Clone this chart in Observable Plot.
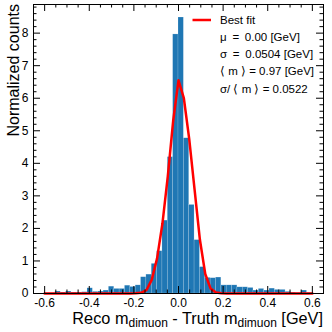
<!DOCTYPE html>
<html><head><meta charset="utf-8">
<script src="https://cdn.jsdelivr.net/npm/d3@7"></script>
<script src="https://cdn.jsdelivr.net/npm/@observablehq/plot@0.6"></script>
<style>html,body{margin:0;padding:0;background:#fff}#chart{width:332px;height:332px}</style>
</head><body><div id="chart"></div>
<script>
// Bin edges (50 bins from -0.6 to 0.6)
const binEdges = [-0.600,-0.576,-0.552,-0.528,-0.504,-0.480,-0.456,-0.432,-0.408,-0.384,
  -0.360,-0.336,-0.312,-0.288,-0.264,-0.240,-0.216,-0.192,-0.168,-0.144,
  -0.120,-0.096,-0.072,-0.048,-0.024,0.000,0.024,0.048,0.072,0.096,
  0.120,0.144,0.168,0.192,0.216,0.240,0.264,0.288,0.312,0.336,
  0.360,0.384,0.408,0.432,0.456,0.480,0.504,0.528,0.552,0.576,0.600];
// Normalized counts per bin
const counts = [0.01,0.01,0.06,0.03,0.06,0.03,0.03,0.04,0.16,0.05,
  0.06,0.09,0.21,0.14,0.14,0.24,0.20,0.25,0.50,0.58,
  0.91,1.30,2.24,4.19,7.96,8.48,4.77,2.72,1.64,0.81,
  0.48,0.47,0.49,0.25,0.25,0.25,0.19,0.19,0.17,0.09,
  0.14,0.09,0.15,0.11,0.11,0.05,0.03,0.02,0.09,0.02];
// Best-fit curve, read at the bin edges
const fitX = binEdges;
const fitY = [0,0,0,0,0,0,0,0,0,0,0,0,0,0,0,0,0,
  0.005,0.02,0.10,0.42,1.08,2.15,3.6,5.3,6.55,6.0,4.75,3.2,1.65,0.6,0.15,0.03,0.005,
  0,0,0,0,0,0,0,0,0,0,0,0,0,0,0,0,0];
// Ticks
const xTickValues = [-0.6,-0.4,-0.2,0.0,0.2,0.4,0.6];
const xTickLabels = ["-0.6","-0.4","-0.2","0.0","0.2","0.4","0.6"];
const xMinorTicks = [-0.65,-0.55,-0.5,-0.45,-0.35,-0.3,-0.25,-0.15,-0.1,-0.05,0.05,0.1,0.15,0.25,0.3,0.35,0.45,0.5,0.55,0.65];
const yTickValues = [0,1,2,3,4,5,6,7,8];
const yTickLabels = ["0","1","2","3","4","5","6","7","8"];
const yMinorTicks = [0.2,0.4,0.6,0.8,1.2,1.4,1.6,1.8,2.2,2.4,2.6,2.8,3.2,3.4,3.6,3.8,4.2,4.4,4.6,4.8,5.2,5.4,5.6,5.8,6.2,6.4,6.6,6.8,7.2,7.4,7.6,7.8,8.2,8.4,8.6,8.8];
// Legend texts
const legendLabel = "Best fit";
const statLines = ["μ\u2002=\u20020.00 [GeV]","σ\u2002=\u20020.0504 [GeV]","⟨ m ⟩ = 0.97 [GeV]","σ/ ⟨ m ⟩ = 0.0522"];

const W = 332, H = 332, mL = 33, mR = 9, mT = 4, mB = 39;
const fw = W - mL - mR, fh = H - mT - mB;
const majorLen = 7, minorLen = 3.5;

const bars = counts.map((c, i) => ({x1: binEdges[i], x2: binEdges[i + 1], y: c}));
const fit = fitX.map((x, i) => ({x, y: fitY[i]}));
const font = "'Liberation Sans', Arial, Helvetica, sans-serif";

const svg = Plot.plot({
  width: W, height: H,
  marginLeft: mL, marginRight: mR, marginTop: mT, marginBottom: mB,
  style: {fontFamily: font, fontSize: "12px", color: "#000", background: "#fff", overflow: "visible"},
  x: {domain: [-0.65, 0.65], label: null},
  y: {domain: [0, 8.88], label: null},
  marks: [
    Plot.rectY(bars, {x1: "x1", x2: "x2", y: "y", fill: "#1f77b4", stroke: "#ffffff", strokeOpacity: 0.3, strokeWidth: 0.5}),
    Plot.line(fit, {x: "x", y: "y", stroke: "#ff0000", strokeWidth: 2.5}),
    // inward ticks on four sides
    Plot.tickX(xTickValues, {x: d => d, insetTop: fh - majorLen, stroke: "#000"}),
    Plot.tickX(xTickValues, {x: d => d, insetBottom: fh - majorLen, stroke: "#000"}),
    Plot.tickX(xMinorTicks, {x: d => d, insetTop: fh - minorLen, stroke: "#000"}),
    Plot.tickX(xMinorTicks, {x: d => d, insetBottom: fh - minorLen, stroke: "#000"}),
    Plot.tickY(yTickValues, {y: d => d, insetRight: fw - majorLen, stroke: "#000"}),
    Plot.tickY(yTickValues, {y: d => d, insetLeft: fw - majorLen, stroke: "#000"}),
    Plot.tickY(yMinorTicks, {y: d => d, insetRight: fw - minorLen, stroke: "#000"}),
    Plot.tickY(yMinorTicks, {y: d => d, insetLeft: fw - minorLen, stroke: "#000"}),
    Plot.frame({stroke: "#000", strokeWidth: 1}),
    Plot.axisX(xTickValues, {tickSize: 0, tickPadding: 5, fontSize: 12, tickFormat: (d, i) => xTickLabels[i], label: null}),
    Plot.axisY(yTickValues, {tickSize: 0, tickPadding: 5, fontSize: 12, tickFormat: (d, i) => yTickLabels[i], label: null})
  ]
});
document.getElementById("chart").appendChild(svg);

const s = d3.select(svg);
// y label
s.append("text")
  .attr("transform", `translate(19,${mT}) rotate(-90)`)
  .attr("text-anchor", "end")
  .attr("font-family", font).attr("font-size", 16).attr("fill", "#000")
  .text("Normalized counts");
// x label with subscripts
const xl = s.append("text")
  .attr("x", W - mR).attr("y", 324)
  .attr("text-anchor", "end")
  .attr("font-family", font).attr("font-size", 16.3).attr("fill", "#000");
xl.append("tspan").text("Reco m");
xl.append("tspan").attr("font-size", 12).attr("dy", 3).text("dimuon");
xl.append("tspan").attr("dy", -3).text(" - Truth m");
xl.append("tspan").attr("font-size", 12).attr("dy", 3).text("dimuon");
xl.append("tspan").attr("dy", -3).text(" [GeV]");
// legend
s.append("line").attr("x1", 192.5).attr("x2", 211).attr("y1", 20).attr("y2", 20)
  .attr("stroke", "#ff0000").attr("stroke-width", 2.5);
const leg = s.append("g").attr("font-family", font).attr("font-size", 11.5).attr("fill", "#000").attr("text-anchor", "start");
leg.append("text").attr("x", 220).attr("y", 24.3).text(legendLabel);
const baselines = [40.8, 57.5, 75, 92.5];
statLines.forEach((t, i) => leg.append("text").attr("x", 220).attr("y", baselines[i]).text(t));
</script>
</body></html>
